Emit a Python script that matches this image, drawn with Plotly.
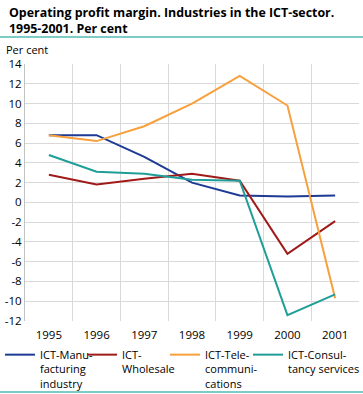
import plotly.graph_objects as go

years = ["1995", "1996", "1997", "1998", "1999", "2000", "2001"]
manufacturing = [6.8, 6.8, 4.6, 2.0, 0.7, 0.6, 0.7]
wholesale = [2.8, 1.8, 2.4, 2.9, 2.2, -5.2, -1.9]
telecom = [6.8, 6.2, 7.7, 10.0, 12.8, 9.8, -9.7]
consultancy = [4.8, 3.1, 2.9, 2.3, 2.2, -11.4, -9.3]

y_ticks = [-12, -10, -8, -6, -4, -2, 0, 2, 4, 6, 8, 10, 12, 14]
y_tick_labels = ["-12", "-10", "-8", "-6", "-4", "-2", "0", "2", "4", "6", "8", "10", "12", "14"]

series_names = ["ICT-Manu-<br>facturing<br>industry", "ICT-<br>Wholesale",
                "ICT-Tele-<br>communi-<br>cations", "ICT-Consul-<br>tancy services"]
series_values = [manufacturing, wholesale, telecom, consultancy]
colors = ["#1d3a94", "#a01a1a", "#f7a03c", "#1f9e98"]

W, H = 363, 394
L, R, T, B = 25, 4, 64, 73
pw, ph = W - L - R, H - T - B

def cx(x):
    return x / W

def cy(y):
    return 1 - y / H

FONT = "Open Sans"

legend_ids = ["legend", "legend2", "legend3", "legend4"]
legend_x = [-8, 82, 165, 248]

fig = go.Figure()
for name, vals, c, lid in zip(series_names, series_values, colors, legend_ids):
    fig.add_trace(go.Scatter(x=years, y=vals, mode="lines", name=name, legend=lid,
                             line=dict(color=c, width=2)))

legend_layout = {}
for lid, lx in zip(legend_ids, legend_x):
    legend_layout[lid] = dict(orientation="h", xref="container", yref="container",
                              x=cx(lx), y=cy(341), xanchor="left", yanchor="top",
                              valign="top", bgcolor="rgba(0,0,0,0)",
                              font=dict(family=FONT, size=11, color="#000"),
                              itemwidth=30)

fig.update_layout(
    width=W, height=H,
    margin=dict(l=L, r=R, t=T, b=B, autoexpand=False),
    paper_bgcolor="white", plot_bgcolor="white",
    font=dict(family=FONT, size=11, color="#000000"),
    showlegend=True,
    xaxis=dict(type="category", tickson="boundaries", showgrid=True,
               range=[-0.5, 6.5],
               gridcolor="#d9d9d9", gridwidth=1, ticks="", showline=False,
               ticklabelstandoff=5,
               tickfont=dict(size=11.5)),
    yaxis=dict(range=[-12, 14], tickvals=y_ticks, ticktext=y_tick_labels, showgrid=True,
               gridcolor="#d9d9d9", gridwidth=1, zeroline=False,
               showline=True, linecolor="#c4c4c4", linewidth=1, ticks="",
               tickfont=dict(size=11.5)),
    annotations=[
        dict(text="<b>Operating profit margin. Industries in the ICT-sector.<br>1995-2001. Per cent</b>",
             xref="paper", yref="paper", x=(7 - L) / pw, y=(H - B - 2) / ph,
             xanchor="left", yanchor="top",
             align="left", showarrow=False, font=dict(family=FONT, size=12.4, color="#000")),
        dict(text="Per cent", xref="paper", yref="paper", x=(4 - L) / pw, y=(H - B - 50) / ph,
             xanchor="left", yanchor="middle", showarrow=False,
             font=dict(family=FONT, size=11, color="#000")),
    ],
    shapes=[
        dict(type="line", xref="paper", yref="paper", x0=-L / pw, x1=(W - L) / pw,
             y0=(H - B - 37) / ph, y1=(H - B - 37) / ph,
             line=dict(color="#7fcbc7", width=2)),
        dict(type="line", xref="paper", yref="paper", x0=-L / pw, x1=(W - L) / pw,
             y0=(H - B - 392) / ph, y1=(H - B - 392) / ph,
             line=dict(color="#7fcbc7", width=2)),
    ],
    **legend_layout,
)

fig.write_html("out.html", config={"displayModeBar": False},
               post_script="document.body.style.margin='0';document.body.style.overflow='hidden';")
